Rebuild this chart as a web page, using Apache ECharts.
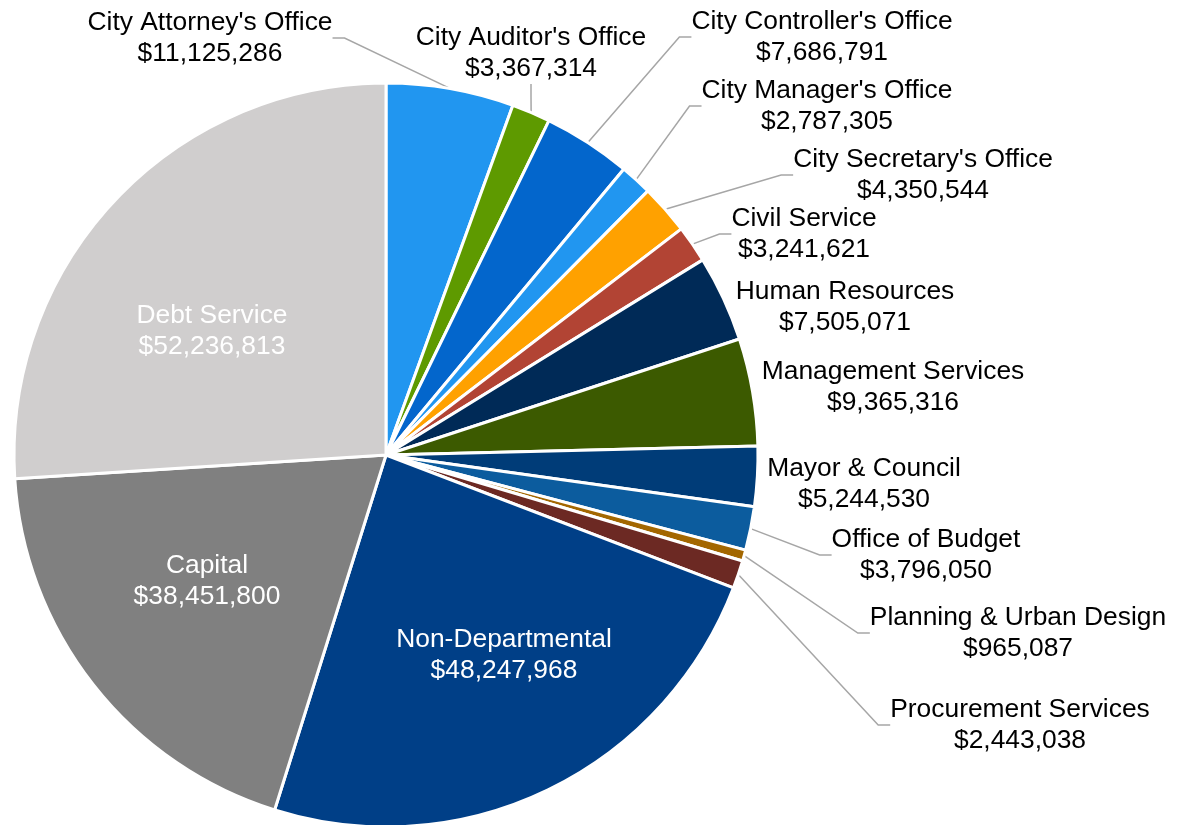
<!DOCTYPE html>
<html>
<head>
<meta charset="utf-8">
<title>Budget by department</title>
<script src="https://cdn.jsdelivr.net/npm/echarts@6/dist/echarts.min.js"></script>
<style>
  html, body { margin: 0; padding: 0; background: #fff; }
  #main { width: 1181px; height: 825px; }
</style>
</head>
<body>
<div id="main"></div>
<script>
// data, clockwise from 12 o'clock
var departments = [
  "City Attorney's Office", "City Auditor's Office", "City Controller's Office",
  "City Manager's Office", "City Secretary's Office", "Civil Service",
  "Human Resources", "Management Services", "Mayor & Council",
  "Office of Budget", "Planning & Urban Design", "Procurement Services",
  "Non-Departmental", "Capital", "Debt Service"
];
var amounts = [
  11125286, 3367314, 7686791,
  2787305, 4350544, 3241621,
  7505071, 9365316, 5244530,
  3796050, 965087, 2443038,
  48247968, 38451800, 52236813
];
var sliceColors = [
  '#2196F0', '#5E9A00', '#0366CC',
  '#2196F0', '#FFA100', '#B24434',
  '#002A57', '#3C5A00', '#003C78',
  '#0C5C9E', '#A36700', '#6C2923',
  '#003F87', '#808080', '#D0CECE'
];
// label centre positions (px), same order as departments
var labelPos = [
  [210, 38], [531, 53], [822, 37],
  [827, 106], [923, 175], [804, 234],
  [845, 307], [893, 387], [864, 484],
  [926, 555], [1018, 633], [1020, 725],
  [504, 655], [207, 581], [212, 331]
];
var insideNames = ['Non-Departmental', 'Capital', 'Debt Service'];
var noLineNames = ['Human Resources', 'Management Services', 'Mayor & Council'];

var chart = echarts.init(document.getElementById('main'));

var seriesData = departments.map(function (name, i) {
  var item = { name: name, value: amounts[i], itemStyle: { color: sliceColors[i] } };
  if (insideNames.indexOf(name) >= 0) {
    item.label = { position: 'inside', color: '#fff' };
    item.labelLine = { show: false };
  } else if (noLineNames.indexOf(name) >= 0) {
    item.labelLine = { show: false };
  }
  return item;
});

var option = {
  backgroundColor: '#fff',
  animation: false,
  series: [{
    type: 'pie',
    center: [386, 455],
    radius: 372,
    startAngle: 90,
    clockwise: true,
    avoidLabelOverlap: false,
    itemStyle: { borderColor: '#fff', borderWidth: 3 },
    label: {
      show: true,
      position: 'outside',
      fontFamily: 'Liberation Sans, Arial, sans-serif',
      fontSize: 26.4,
      lineHeight: 31,
      color: '#000',
      align: 'center',
      formatter: function (p) {
        return p.name + '\n$' + p.value.toLocaleString('en-US');
      }
    },
    labelLine: {
      show: true,
      length: 10,
      length2: 12,
      lineStyle: { color: '#A6A6A6', width: 1.5 }
    },
    labelLayout: function (params) {
      var pos = labelPos[params.dataIndex];
      return { x: pos[0], y: pos[1], align: 'center', verticalAlign: 'middle' };
    },
    data: seriesData
  }]
};
chart.setOption(option);
</script>
</body>
</html>
